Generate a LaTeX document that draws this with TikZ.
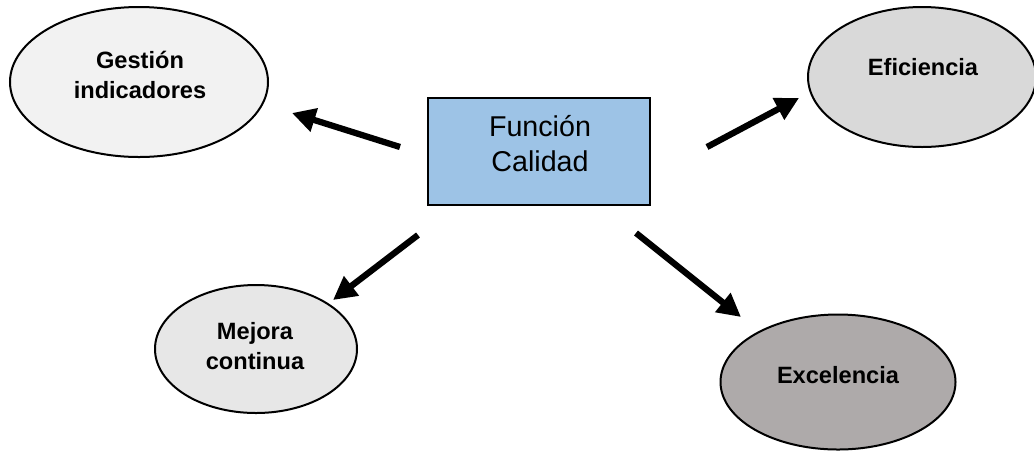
\documentclass[tikz,border=0pt]{standalone}
\usepackage{fontspec}
\setmainfont{Liberation Sans}
\usetikzlibrary{arrows.meta,shapes.geometric}
\definecolor{boxblue}{HTML}{9DC3E6}
\definecolor{gLight}{HTML}{F2F2F2}
\definecolor{gMid}{HTML}{E7E7E7}
\definecolor{gSoft}{HTML}{D9D9D9}
\definecolor{gDark}{HTML}{AEAAAA}
\tikzset{
  oval/.style={ellipse, draw=black, line width=1.5pt, inner sep=0pt},
  ovaltext/.style={align=center, font=\fontsize{17.7}{22.5}\selectfont\bfseries, inner sep=0pt},
  mainbox/.style={draw=black, line width=1.6pt, fill=boxblue, inner sep=0pt,
    minimum width=222*0.75pt, minimum height=107*0.75pt},
  boxtext/.style={align=center, inner sep=0pt, font=\fontsize{21.5}{26.2}\selectfont},
  fat/.style={line width=4.7pt, -{Triangle[length=17.5pt,width=17.5pt]}}
}
\begin{document}
\begin{tikzpicture}[x=0.75pt, y=-0.75pt]
\useasboundingbox (0,0) rectangle (1034,451);
% central box
\node[mainbox] (fc) at (539,151.5) {};
\node[boxtext] (fcT) at (540,144) {Función\\Calidad};
% surrounding ellipses
\node[oval, fill=gLight, minimum width=258*0.75pt, minimum height=150*0.75pt] (gest) at (139,82) {};
\node[ovaltext] (gestT) at (140,75) {Gestión\\indicadores};
\node[oval, fill=gSoft, minimum width=228*0.75pt, minimum height=140*0.75pt] (efic) at (922,77) {};
\node[ovaltext] (eficT) at (923,67) {Eficiencia};
\node[oval, fill=gMid, minimum width=202*0.75pt, minimum height=128*0.75pt] (mejo) at (256,349) {};
\node[ovaltext] (mejoT) at (255,346) {Mejora\\continua};
\node[oval, fill=gDark, minimum width=235*0.75pt, minimum height=135*0.75pt] (exce) at (838,382) {};
\node[ovaltext] (exceT) at (838,375) {Excelencia};
% arrow ends
\coordinate (a1s) at (400,147); \coordinate (a1e) at (292,113);
\coordinate (a2s) at (707,147); \coordinate (a2e) at (799,98);
\coordinate (a3s) at (418,235); \coordinate (a3e) at (333,300);
\coordinate (a4s) at (636,233); \coordinate (a4e) at (741,317);
\draw[fat] (a1s) -- (a1e);
\draw[fat] (a2s) -- (a2e);
\draw[fat] (a3s) -- (a3e);
\draw[fat] (a4s) -- (a4e);
\end{tikzpicture}
\end{document}
